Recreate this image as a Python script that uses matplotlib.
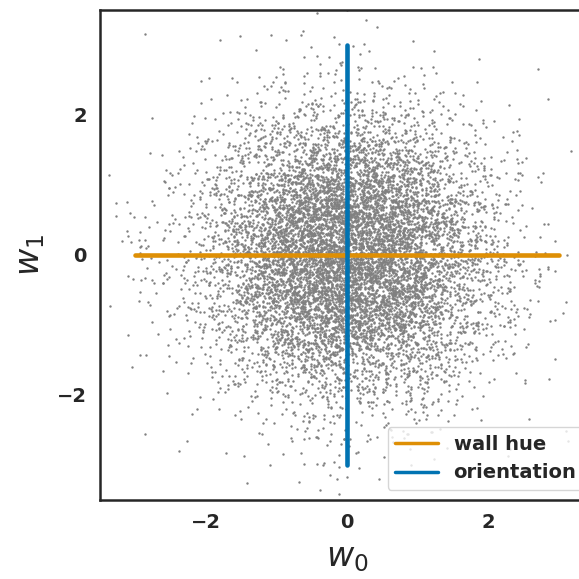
import numpy as np
import matplotlib
matplotlib.use("Agg")
import matplotlib.pyplot as plt
from matplotlib.lines import Line2D
import seaborn as sns

sns.set_style("white")
plt.rcParams['font.family'] = ['DejaVu Sans']

# axis ranges and ticks
xlim = (-3.5, 3.5)
ylim = (-3.5, 3.5)
ticks = [-2, 0, 2]

# the two direction lines
wall_hue_x = [-3, 3]
wall_hue_y = [0, 0]
orientation_x = [0, 0]
orientation_y = [-3, 3]

# background cloud: single points are not readable in the picture,
# it is a dense standard-normal looking cloud, so draw a fixed-seed sample of that shape
n_points = 10000
rng = np.random.default_rng(0)
cloud = rng.standard_normal((n_points, 2))

colors = sns.color_palette("colorblind")
c_blue = colors[0]
c_orange = colors[1]

fig = plt.figure(figsize=(5.79, 5.79), dpi=100)
ax = fig.add_axes([100 / 579, 79 / 579, 494 / 579, 490 / 579])

ax.scatter(cloud[:, 0], cloud[:, 1], s=3, color='gray', linewidths=0)
ax.plot(wall_hue_x, wall_hue_y, color=c_orange, lw=3.3)
ax.plot(orientation_x, orientation_y, color=c_blue, lw=3.3)

ax.set_xlim(*xlim)
ax.set_ylim(*ylim)
ax.set_xticks(ticks)
ax.set_yticks(ticks)
ax.tick_params(labelsize=14, pad=6)
for lab in ax.get_xticklabels() + ax.get_yticklabels():
    lab.set_fontweight('bold')

ax.set_xlabel('$w_0$', fontsize=24, labelpad=6)
ax.set_ylabel('$w_1$', fontsize=24, labelpad=7)

for sp in ax.spines.values():
    sp.set_color('#262626')
    sp.set_linewidth(1.8)

handles = [Line2D([], [], color=c_orange, lw=2.5),
           Line2D([], [], color=c_blue, lw=2.5)]
leg = ax.legend(handles, ['wall hue', 'orientation'], loc='lower right',
                prop={'weight': 'bold', 'size': 14}, frameon=True,
                handlelength=2.2, borderaxespad=0.5)

fig.savefig('out.png', dpi=100)
